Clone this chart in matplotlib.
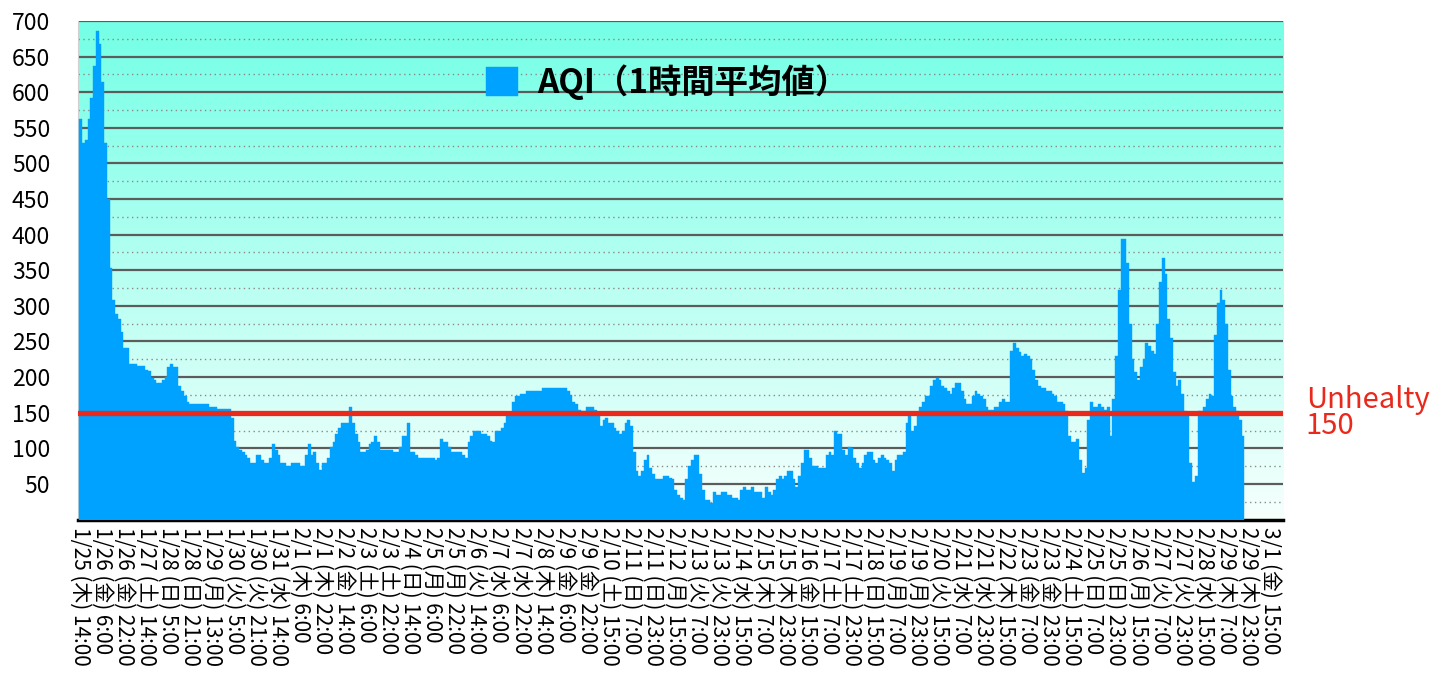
import numpy as np
import matplotlib
matplotlib.use("Agg")
import matplotlib.pyplot as plt
from matplotlib.colors import LinearSegmentedColormap

plt.rcParams['font.family'] = ['Noto Sans CJK JP', 'DejaVu Sans']

# one label every 16 hours
tick_labels = [
    "1/25 (木) 14:00", "1/26 (金) 6:00", "1/26 (金) 22:00", "1/27 (土) 14:00",
    "1/28 (日) 5:00", "1/28 (日) 21:00", "1/29 (月) 13:00", "1/30 (火) 5:00",
    "1/30 (火) 21:00", "1/31 (水) 14:00", "2/1 (木) 6:00", "2/1 (木) 22:00",
    "2/2 (金) 14:00", "2/3 (土) 6:00", "2/3 (土) 22:00", "2/4 (日) 14:00",
    "2/5 (月) 6:00", "2/5 (月) 22:00", "2/6 (火) 14:00", "2/7 (水) 6:00",
    "2/7 (水) 22:00", "2/8 (木) 14:00", "2/9 (金) 6:00", "2/9 (金) 22:00",
    "2/10 (土) 15:00", "2/11 (日) 7:00", "2/11 (日) 23:00", "2/12 (月) 15:00",
    "2/13 (火) 7:00", "2/13 (火) 23:00", "2/14 (水) 15:00", "2/15 (木) 7:00",
    "2/15 (木) 23:00", "2/16 (金) 15:00", "2/17 (土) 7:00", "2/17 (土) 23:00",
    "2/18 (日) 15:00", "2/19 (月) 7:00", "2/19 (月) 23:00", "2/20 (火) 15:00",
    "2/21 (水) 7:00", "2/21 (水) 23:00", "2/22 (木) 15:00", "2/23 (金) 7:00",
    "2/23 (金) 23:00", "2/24 (土) 15:00", "2/25 (日) 7:00", "2/25 (日) 23:00",
    "2/26 (月) 15:00", "2/27 (火) 7:00", "2/27 (火) 23:00", "2/28 (水) 15:00",
    "2/29 (木) 7:00", "2/29 (木) 23:00", "3/1 (金) 15:00",
]

# AQI, one value per 2 hours (8 per label step)
aqi = [
    562, 529, 533, 562, 592, 637, 686, 667,
    614, 529, 450, 353, 308, 288, 281, 263,
    241, 241, 218, 218, 218, 215, 215, 215,
    210, 208, 199, 196, 192, 192, 196, 200,
    214, 218, 214, 214, 188, 180, 173, 165,
    162, 162, 162, 162, 162, 162, 162, 158,
    158, 158, 155, 155, 155, 155, 155, 142,
    111, 102, 97, 95, 91, 86, 80, 80,
    91, 91, 84, 80, 80, 86, 106, 97,
    91, 80, 80, 75, 75, 80, 80, 80,
    75, 75, 91, 106, 91, 95, 80, 70,
    80, 80, 86, 102, 109, 120, 128, 135,
    135, 135, 158, 135, 120, 109, 95, 95,
    97, 106, 109, 117, 109, 97, 97, 97,
    97, 97, 95, 95, 102, 117, 117, 135,
    95, 95, 90, 86, 86, 86, 86, 86,
    86, 84, 86, 113, 109, 109, 102, 95,
    95, 95, 95, 91, 86, 109, 117, 124,
    124, 124, 120, 120, 117, 111, 109, 124,
    124, 129, 136, 147, 147, 165, 173, 173,
    176, 176, 180, 180, 180, 180, 180, 180,
    185, 185, 185, 185, 185, 185, 185, 185,
    185, 180, 175, 165, 162, 154, 153, 153,
    158, 158, 158, 154, 148, 131, 140, 143,
    136, 136, 129, 124, 120, 124, 136, 140,
    131, 95, 68, 61, 68, 84, 91, 72,
    64, 57, 57, 57, 61, 61, 59, 57,
    42, 35, 30, 27, 57, 75, 84, 91,
    91, 64, 42, 27, 27, 23, 39, 35,
    35, 39, 39, 35, 35, 30, 30, 27,
    42, 46, 42, 42, 46, 39, 39, 39,
    30, 46, 39, 35, 42, 57, 61, 57,
    61, 68, 68, 57, 46, 61, 79, 98,
    98, 86, 75, 75, 72, 72, 72, 90,
    95, 91, 124, 120, 120, 98, 91, 102,
    100, 86, 79, 72, 79, 91, 95, 95,
    84, 79, 86, 91, 86, 84, 79, 68,
    84, 91, 91, 95, 136, 147, 124, 131,
    145, 158, 165, 173, 173, 187, 196, 199,
    196, 187, 185, 180, 176, 185, 192, 192,
    180, 169, 162, 162, 173, 180, 176, 173,
    169, 158, 154, 154, 158, 158, 165, 169,
    165, 165, 237, 248, 241, 235, 230, 233,
    230, 226, 210, 196, 187, 185, 185, 180,
    180, 176, 173, 165, 165, 162, 152, 117,
    109, 109, 113, 84, 66, 72, 140, 165,
    158, 158, 162, 158, 154, 158, 117, 169,
    230, 322, 394, 394, 360, 275, 225, 207,
    196, 214, 225, 248, 244, 237, 233, 275,
    334, 367, 345, 282, 255, 207, 187, 196,
    176, 152, 145, 79, 53, 61, 152, 152,
    158, 169, 176, 173, 259, 304, 322, 308,
    275, 210, 173, 158, 152, 140, 117,
]

unhealthy = 150

hours_per_bar = 2
hours_per_label = 16

fig = plt.figure(figsize=(14.46, 6.87), dpi=100)
ax = fig.add_axes([0.0539, 0.2437, 0.8334, 0.7258])

# background gradient (aqua at top -> almost white at bottom)
cmap = LinearSegmentedColormap.from_list("bg", ["#F6FFFD", "#74FFE6"])
grad = np.linspace(0, 1, 256).reshape(-1, 1)
ax.imshow(grad, extent=(0, 1, 0, 1), transform=ax.transAxes, origin="lower",
          aspect="auto", cmap=cmap, zorder=0)

x = np.arange(len(aqi)) * hours_per_bar + 0.5
ax.bar(x, aqi, width=hours_per_bar, color="#00A2FF", edgecolor="#00A2FF",
       linewidth=0.3, zorder=3, label="AQI（1時間平均値）")

ax.axhline(unhealthy, color="#E8291C", lw=3.8, zorder=4)
fig.text(0.903, 0.399, "Unhealty\n150", color="#E8291C", fontsize=21,
         va="center", ha="left", linespacing=0.8)

ax.set_xlim(-1.5, 873.5)
ax.set_ylim(0, 700)

ax.set_yticks(np.arange(50, 701, 50))
ax.set_yticks(np.arange(25, 700, 50), minor=True)
ax.grid(which="major", axis="y", color="#5c5c5c", lw=1.6, zorder=1)
ax.grid(which="minor", axis="y", color="#8a8a8a", lw=1.0, ls=(0, (1, 2.5)), zorder=1)
ax.set_axisbelow(True)

ax.set_xticks(np.arange(len(tick_labels)) * hours_per_label)
ax.set_xticklabels(tick_labels, rotation=270, fontsize=15, va="top", ha="center")
ax.tick_params(axis="x", length=0, pad=5)
ax.tick_params(axis="y", which="both", length=0, labelsize=16.5, pad=20)

for s in ["top", "right"]:
    ax.spines[s].set_visible(False)
ax.spines["left"].set_color("#d0d0d0")
ax.spines["bottom"].set_color("black")
ax.spines["bottom"].set_linewidth(2.5)

ax.legend(loc="center", bbox_to_anchor=(0.4615, 0.8806), bbox_transform=fig.transFigure,
          frameon=False, prop={"size": 24, "weight": "bold"},
          handlelength=0.95, handleheight=0.95, handletextpad=0.6)

fig.savefig("out.png", dpi=100)
